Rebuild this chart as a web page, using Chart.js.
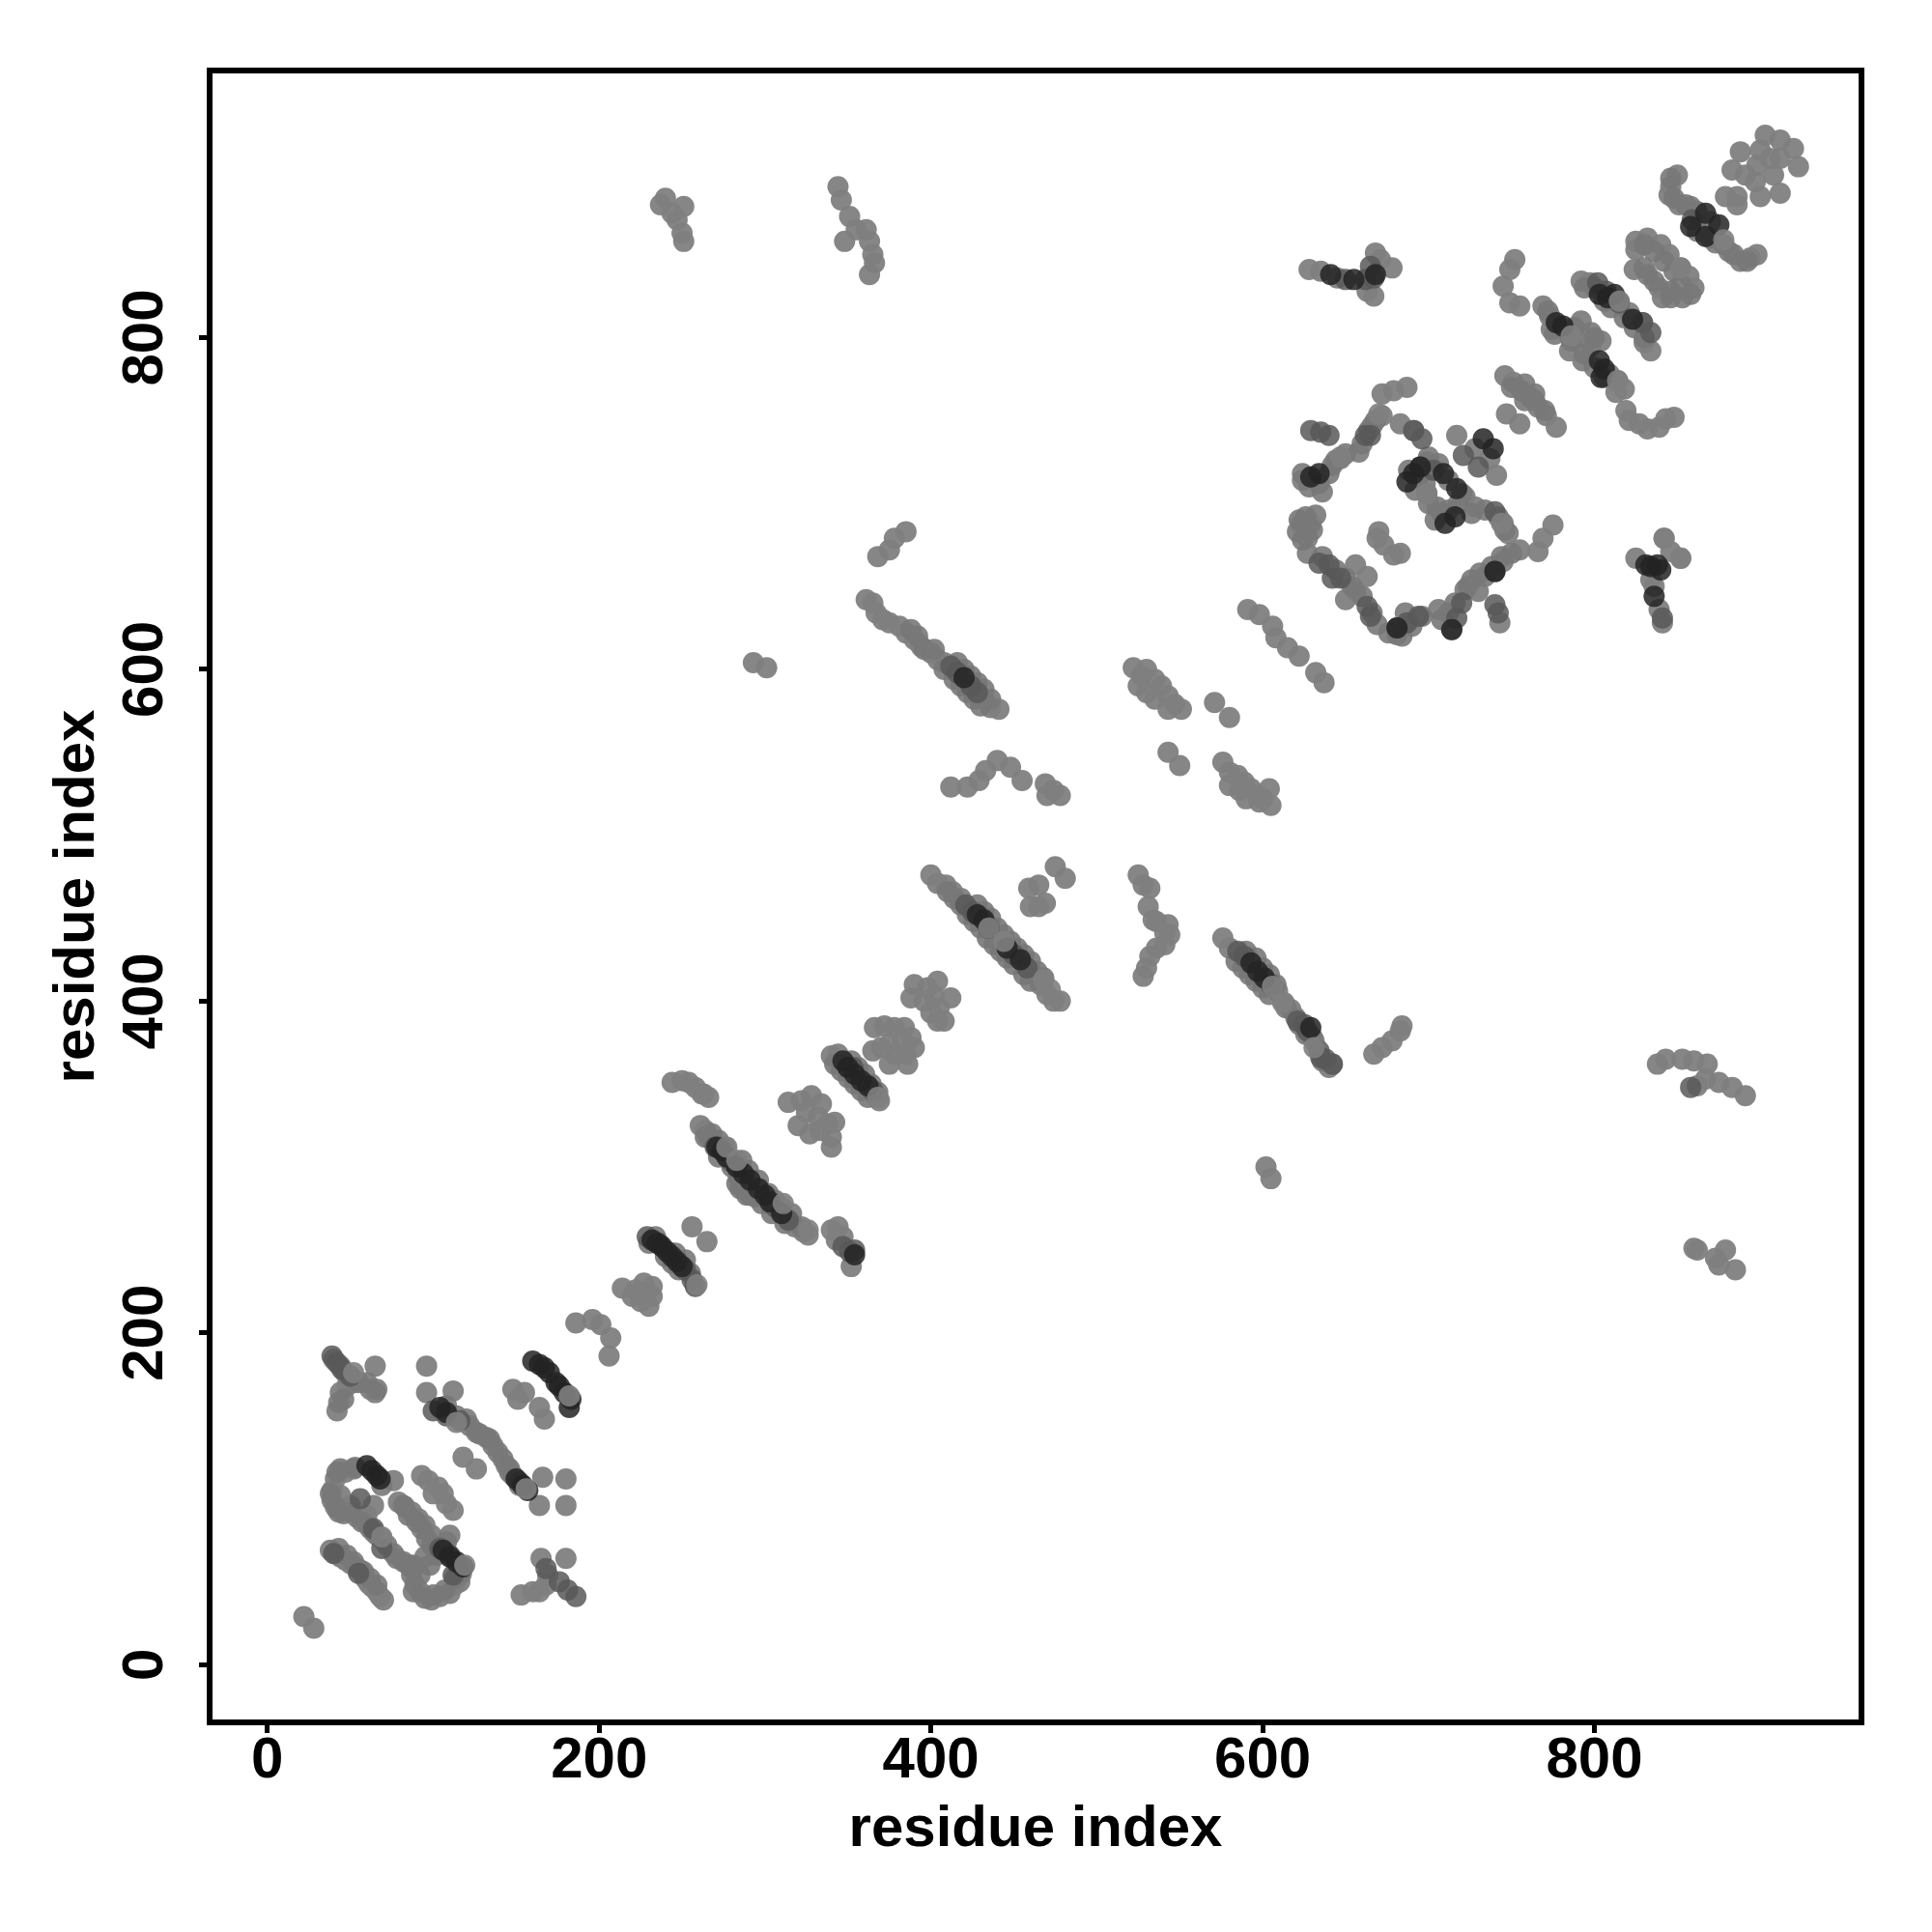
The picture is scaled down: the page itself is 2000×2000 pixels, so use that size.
<!DOCTYPE html>
<html>
<head>
<meta charset="utf-8">
<style>
  html, body { margin: 0; padding: 0; background: #fff; }
  canvas { display: block; }
</style>
<script src="https://cdn.jsdelivr.net/npm/chart.js@4/dist/chart.umd.min.js"></script>
</head>
<body>
<canvas id="contactMap" width="2000" height="2000"></canvas>
<script>
const tickValues = [0, 200, 400, 600, 800];
const axisTitle = "residue index";

// contacts, [x, y] in residue index
const grayLow = [
  [22,29],[28,22],[38,69],[41,67],[44,65],[47,63],[50,61],[53,59],[56,57],[59,52],[61,49],[63,47],[66,44],[68,41],[70,39],
  [76,111],[47,116],[41,112],[39,105],[39,99],[46,91],[54,89],[60,85],[64,80],[69,76],[76,67],[85,60],[89,48],[92,44],[99,39],[104,41],[110,43],[116,50],[113,48],
  [64,96],[60,90],[79,98],[83,95],[87,92],[91,88],[95,84],[99,78],[110,78],[95,65],[87,58],[52,118],[44,102],[50,96],
  [93,114],[97,111],[103,107],[106,103],[100,103],[108,97],[112,93],
  [65,180],[65,164],[62,166],[52,170],[48,168],[44,164],[42,153],[96,180],[96,164],[112,165],[120,148],[128,139],[134,136],[139,128],[144,120],[146,116],
  [118,125],[126,118],[166,113],[180,112],[164,96],[180,96],[148,166],[155,164],[151,160],[164,155],[167,148],
  [165,64],[180,64],[169,54],[153,42],[160,44],[164,44],[168,48],
  [186,206],[196,208],[201,205],[207,197],[206,186],
  [214,227],[220,222],[225,219],[230,216],[232,228],[227,230],[222,226],[232,222],[256,264],[265,255],
  [244,351],[250,352],[254,351],[258,348],[262,344],[266,342],[261,325],[264,322],[266,318],[286,288],[291,283],[323,261],[326,259],[318,264],
  [340,262],[344,264],[343,256],[347,258],[352,240],
  [314,339],[322,340],[328,343],[334,338],[320,325],[327,320],[325,333],[332,330],[338,326],[342,327],[340,318],[340,312],[333,322],
  [340,367],[344,368],[369,340],[366,344],
  [366,384],[372,385],[378,384],[384,384],[383,376],[375,374],[370,372],[365,370],[378,368],[385,368],[390,372],[386,362],[375,362],[388,378],
  [388,402],[390,410],[396,400],[400,393],[404,388],[408,388],[398,408],[402,403],[404,412],[412,402],[405,396]
];
const grayMid = [
  [400,476],[404,471],[409,470],[413,466],[418,462],[438,440],[442,437],[462,416],[466,410],[470,404],[474,400],[478,400],
  [459,468],[465,470],[469,459],[465,457],[460,457],[475,481],[481,474],
  [525,476],[528,470],[532,468],[531,457],[534,449],[541,441],[544,440],[536,432],[532,427],[530,420],[528,415],[543,446],[536,448],[541,434],
  [576,438],[580,432],[609,406],[613,399],[617,395],[620,390],[631,376],[642,362],
  [667,368],[672,372],[678,376],[683,382],[684,385],[368,668],[375,672],[378,679],[385,683],
  [838,362],[843,365],[853,365],[860,364],[868,362],[862,349],[867,353],[875,351],[883,348],[891,343],
  [860,251],[862,250],[873,245],[879,250],[875,241],[885,238],
  [602,300],[605,293],[293,604],[301,601],[543,550],[550,542],[571,580],[580,571],
  [576,544],[580,538],[585,536],[589,532],[593,528],[597,524],[600,522],[586,527],[590,522],[598,520],[604,528],[605,518],[580,530],
  [412,529],[422,529],[429,533],[433,539],[440,545],[448,541],[455,533],[469,531],[474,527],[478,524],[470,524],
  [361,642],[365,640],[367,634],[371,630],[375,628],[381,626],[385,622],[390,618],[394,614],[400,610],[404,606],[408,604],[432,582],[436,577],[441,576],
  [522,601],[527,596],[530,600],[535,594],[539,590],[543,584],[547,579],[551,576],[525,590],[530,586],[535,582],[543,576],
  [591,636],[598,633],[606,626],[608,619],[615,613],[622,608],[632,598],[637,592],
  [240,884],[244,875],[247,871],[251,879],[250,863],[251,858],[237,880],[344,891],[346,883],[351,873],[355,865],[348,858],[361,865],[363,858],[365,850],[366,845],[363,838]
];
const grayHigh = [
  [628,841],[635,840],[645,836],[668,851],[671,847],[678,842],[663,828],[667,825],
  [752,847],[749,841],[745,831],[749,821],[755,819],
  [746,777],[751,773],[756,768],[761,764],[766,758],[771,753],[777,746],[747,754],[755,748],
  [903,922],[912,919],[920,914],[923,903],[906,908],[898,904],[888,912],[883,901],[891,898],[900,885],[912,887],[879,885],[886,880],[897,894],[908,898],[900,913],[912,908],[886,885],
  [850,898],[846,891],[845,886],[851,880],[858,879],[873,857],[881,852],[888,846],[894,848],[898,850],
  [825,858],[832,860],[825,853],[840,856],[845,850],[852,842],[857,837],[860,830],[853,824],[824,841],[832,838],[839,830],[841,824],
  [792,834],[797,833],[815,821],[821,815],[829,809],[834,792],[830,797],
  [769,819],[773,813],[774,805],[785,801],[798,803],[792,801],[804,798],[785,792],[793,786],[798,795],[809,778],[814,774],[818,769],[813,767],
  [819,756],[821,750],[827,748],[832,745],[839,746],[843,751],[848,752],
  [672,766],[679,768],[687,770],[672,753],[666,747],[658,731],[647,727],[642,723],[624,714],[636,707],[683,748],[691,744],[699,725],[699,706],[705,698],[722,704],[728,698],[745,688],[748,682],
  [717,741],[728,733],[737,727],[741,717],[632,693],[629,688],[623,687],[621,683],[627,679],[627,670],[656,663],[663,656],[656,647],[650,642],[669,627],
  [670,683],[669,679],[673,675],[679,669],[683,670],[681,621],[706,636],[714,624],[730,647],[724,650],[731,658],[745,665],[755,672],[766,671],[769,679],[775,687],[743,628],
  [825,667],[842,679],[846,671],[852,667],[834,654],[836,650],[839,636],[841,628]
];
const grayFill = [
  [43,70],[48,66],[52,62],[58,56],[62,52],[66,48],[42,116],[44,118],[53,119],[38,103],[41,95],[43,92],[50,92],[57,86],[62,82],[66,78],[72,72],[78,64],[82,62],[87,54],[88,44],[95,40],[100,42],[107,45],[113,52],[117,55],[69,108],
  [82,96],[85,90],[90,86],[93,82],[96,76],[99,72],[108,74],[102,66],[98,60],[92,54],[88,60],
  [40,184],[44,180],[47,176],[52,172],[55,170],[60,170],[66,166],[46,160],[43,158],
  [108,156],[114,150],[122,144],[126,140],[132,137],[136,132],[142,124],[146,118],[148,114],[152,108],
  [230,254],[234,258],[240,246],[246,248],[252,244],[255,236],[248,238],[244,242],
  [268,320],[272,316],[276,312],[264,318],[272,306],[280,300],[286,304],[284,294],[290,298],[296,292],[294,282],[298,278],[302,284],[306,280],[310,276],[304,272],[312,266],[316,272],[322,264],[283,290],[285,287],[289,283],
  [342,362],[346,358],[350,354],[354,350],[358,346],[362,342],[352,364],[356,360],[360,356],[364,350],[368,345],
  [410,466],[414,462],[418,458],[422,452],[426,448],[430,444],[434,438],[438,434],[442,430],[446,426],[450,422],[456,416],[460,412],[428,458],[432,454],[436,450],[440,444],[444,440],[448,436],[452,432],[456,428],[460,424],[464,418],[468,414],
  [584,424],[588,420],[592,416],[596,412],[600,408],[604,404],[590,430],[596,426],[600,420],[604,416],[608,410],[614,396],[622,386],[626,380],[630,378],[636,364],[640,360],
  [388,624],[392,620],[396,612],[402,612],[408,600],[414,594],[418,590],[422,586],[426,582],[430,578],[416,604],[420,600],[424,596],[428,592],[432,588],[436,582],
  [624,718],[628,710],[634,712],[640,718],[644,726],[650,730],[660,736],[664,744],[668,750],[622,690],[626,692],[630,684],[624,678],[636,668],[644,660],[650,655],[654,650],[660,644],[666,634],[676,622],[684,620],[690,626],[696,632],[686,634],[708,630],[712,634],[716,640],[722,648],[726,654],[734,656],[738,662],[744,668],[750,670],
  [688,720],[694,716],[698,712],[692,708],[700,700],[708,694],[704,690],[712,696],[718,700],[726,694],[734,696],[742,692],[746,684],[700,728],[706,724],[712,714],[720,706],
  [846,896],[848,884],[855,880],[862,876],[870,870],[862,864],[870,860],[878,856],[884,850],[892,846],[830,856],[836,852],[842,846],[848,840],[852,832],[846,828],[830,842],[836,834],[846,824],[858,826],
  [794,830],[800,830],[806,822],[810,818],[818,812],[824,806],[830,800],[772,816],[778,806],[786,798],[794,790],[800,782],[806,776],[800,800],[788,806],[792,810],[776,802],
  [750,770],[758,762],[764,762],[770,756],[758,772],[764,766]
];
const shadeMarks = [
  [39,186],[42,182],[45,178],[50,174],[100,153],[108,150],[116,147],[64,82],[69,70],[56,100],[104,70],[110,66],[112,54],
  [152,110],[168,58],[176,50],[181,45],[186,41],[40,67],[55,55],
  [236,254],[252,238],[256,232],[258,228],[229,258],[270,312],[280,303],[306,276],[314,268],[350,360],[365,346],[347,252],[351,249],
  [421,458],[425,454],[450,428],[458,420],[585,430],[589,427],[605,410],[625,386],[634,370],[638,365],[621,388],[627,382],[635,366],[642,362],
  [412,602],[416,598],[428,586],[424,590],[858,348],[650,835],[662,835],[667,836],[665,843],
  [802,833],[807,828],[815,821],[829,809],[834,803],[859,871],[665,741],[662,741],[640,741],[629,744],[635,743],
  [691,744],[696,739],[703,720],[695,722],[740,695],[740,659],[721,729],[730,722],[634,664],[640,663],[642,655],[647,655],[663,638],[665,632],
  [681,625],[687,628],[694,632],[717,631],[720,640],[740,639],[742,634],[841,631],[354,250],[353,360]
];
const darkMarks = [
  [60,120],[63,117],[66,114],[68,112],[106,69],[110,65],[114,62],[118,59],[104,155],[108,152],
  [150,112],[154,108],[157,105],[160,183],[164,181],[167,179],[170,176],[174,170],[176,168],[179,164],[183,160],[182,155],
  [232,256],[235,254],[238,252],[241,249],[244,246],[247,243],[250,240],
  [271,312],[274,310],[277,306],[283,300],[287,296],[291,292],[296,287],[300,283],[303,279],[310,272],
  [347,364],[350,360],[354,356],[358,352],[362,349],[354,247],
  [428,452],[432,449],[435,444],[446,432],[454,425],[593,423],[597,418],[601,414],[629,384],
  [420,595],[641,838],[655,835],[668,838],
  [777,809],[781,807],[803,786],[806,781],[804,776],[808,824],[803,826],[812,826],[823,811],
  [867,875],[875,868],[858,867],[867,861],
  [634,718],[629,716],[691,718],[687,713],[709,718],[710,688],[716,692],[717,709],[695,722],[733,739],[739,733],[714,624],[681,625],[740,659],
  [831,663],[834,662],[838,663],[840,660],[836,644]
];
const grayTop = [
  [263,344],[368,342],[326,262],[259,229],[277,312],[311,278],[283,304],[435,444],[444,436],[468,413],[472,407],[606,409],[612,399],[631,372],
  [52,176],[69,77],[119,60],[156,106],[182,162],[114,146],[744,688],[699,706],[647,728],[670,754],[814,774],[878,859],[815,822],[786,801],[852,842],[842,679],[852,667]
];

const shades = [
  { points: grayLow, color: "rgba(128,128,128,0.95)" },
  { points: grayMid, color: "rgba(128,128,128,0.95)" },
  { points: grayHigh, color: "rgba(128,128,128,0.95)" },
  { points: grayFill, color: "rgba(120,120,120,0.9)" },
  { points: shadeMarks, color: "rgba(88,88,88,0.85)" },
  { points: darkMarks, color: "rgba(35,35,35,0.85)" },
  { points: grayTop, color: "rgba(128,128,128,0.9)" }
];

// chart.js paints the first dataset last, so the top layer goes first
const datasets = shades.slice().reverse().map(s => ({
  data: s.points.map(p => ({ x: p[0], y: p[1] })),
  backgroundColor: s.color,
  borderWidth: 0,
  pointRadius: 11,
  pointStyle: "circle"
}));

const fontFamily = "'Liberation Sans', Arial, sans-serif";

const boxFrame = {
  id: "boxFrame",
  afterDraw(chart) {
    const { ctx, chartArea: a } = chart;
    ctx.save();
    ctx.strokeStyle = "#000";
    ctx.lineWidth = 6;
    ctx.strokeRect(a.left, a.top, a.right - a.left, a.bottom - a.top);
    ctx.restore();
  }
};

function setTicks(scale) {
  scale.ticks = tickValues.map(v => ({ value: v }));
}

new Chart(document.getElementById("contactMap"), {
  type: "scatter",
  data: { datasets },
  plugins: [boxFrame],
  options: {
    responsive: false,
    animation: false,
    layout: { padding: { top: 73, right: 73, left: 0, bottom: 0 } },
    plugins: { legend: { display: false }, tooltip: { enabled: false } },
    scales: {
      x: {
        type: "linear",
        min: -34.8,
        max: 961,
        afterBuildTicks: setTicks,
        afterFit: s => { s.height = 217; },
        border: { display: false },
        grid: { drawOnChartArea: false, drawTicks: true, tickLength: 11, tickWidth: 5, tickColor: "#000" },
        ticks: {
          autoSkip: false, maxRotation: 0, padding: -7, color: "#000",
          font: { family: fontFamily, size: 60, weight: "bold" },
          callback: v => String(v)
        },
        title: {
          display: true, text: axisTitle, color: "#000", padding: { top: 0, bottom: 70 },
          font: { family: fontFamily, size: 60, weight: "bold" }
        }
      },
      y: {
        type: "linear",
        min: -34.8,
        max: 961,
        afterBuildTicks: setTicks,
        afterFit: s => { s.width = 217; },
        border: { display: false },
        grid: { drawOnChartArea: false, drawTicks: true, tickLength: 11, tickWidth: 5, tickColor: "#000" },
        ticks: {
          autoSkip: false, minRotation: 90, maxRotation: 90, crossAlign: "center", padding: 4, color: "#000",
          font: { family: fontFamily, size: 60, weight: "bold" },
          callback: v => String(v)
        },
        title: {
          display: true, text: axisTitle, color: "#000", padding: { top: 44, bottom: 0 },
          font: { family: fontFamily, size: 60, weight: "bold" }
        }
      }
    }
  }
});
</script>
</body>
</html>
